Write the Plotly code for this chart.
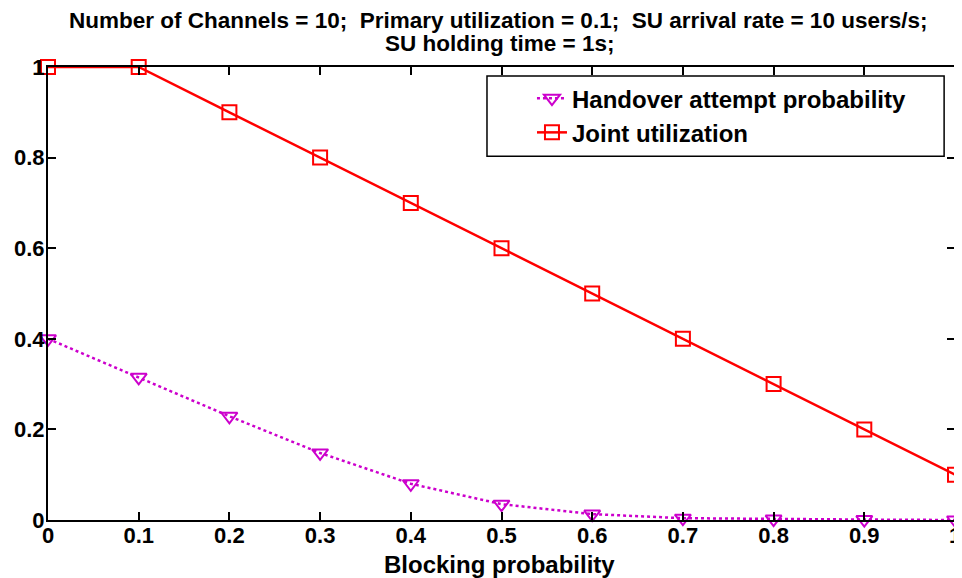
import plotly.graph_objects as go

blocking = [0, 0.1, 0.2, 0.3, 0.4, 0.5, 0.6, 0.7, 0.8, 0.9, 1.0]
handover = [0.40, 0.315, 0.229, 0.148, 0.080, 0.035, 0.013, 0.004, 0.002, 0.001, 0.0]
joint = [1.0, 1.0, 0.9, 0.8, 0.7, 0.6, 0.5, 0.4, 0.3, 0.2, 0.1]
xticks = [0, 0.1, 0.2, 0.3, 0.4, 0.5, 0.6, 0.7, 0.8, 0.9, 1]
xticklabels = ["0", "0.1", "0.2", "0.3", "0.4", "0.5", "0.6", "0.7", "0.8", "0.9", "1"]
yticks = [0, 0.2, 0.4, 0.6, 0.8, 1]
yticklabels = ["0", "0.2", "0.4", "0.6", "0.8", "1"]
title_lines = [
    "Number of Channels = 10;  Primary utilization = 0.1;  SU arrival rate = 10 users/s;",
    "SU holding time = 1s;",
]
x_title = "Blocking probability"

fig = go.Figure()
fig.add_trace(go.Scatter(
    x=blocking, y=handover, name="Handover attempt probability",
    mode="lines+markers",
    line=dict(color="#CC00CC", width=2.5, dash="dot"),
    marker=dict(symbol="triangle-down-open", size=14, color="#CC00CC", line=dict(width=2)),
    cliponaxis=False,
))
fig.add_trace(go.Scatter(
    x=blocking, y=joint, name="Joint utilization",
    mode="lines+markers",
    line=dict(color="#FF0000", width=2.5),
    marker=dict(symbol="square-open", size=14, color="#FF0000", line=dict(width=2)),
    cliponaxis=False,
))

font_main = "Arial, Liberation Sans, sans-serif"
title_font = dict(family=font_main, size=22.5, color="black")

fig.add_annotation(text="<b>" + title_lines[0] + "</b>", xref="paper", yref="paper",
                   x=0.496, y=1, yshift=47, xanchor="center", yanchor="middle",
                   showarrow=False, font=title_font)
fig.add_annotation(text="<b>" + title_lines[1] + "</b>", xref="paper", yref="paper",
                   x=0.498, y=1, yshift=24, xanchor="center", yanchor="middle",
                   showarrow=False, font=title_font)
fig.add_annotation(text="<b>" + x_title + "</b>", xref="paper", yref="paper",
                   x=0.498, y=0, yshift=-44, xanchor="center", yanchor="middle",
                   showarrow=False, font=dict(family=font_main, size=24, color="black"))

# legend frame
fig.add_shape(type="rect", xref="paper", yref="paper",
              x0=0.484, x1=0.988, y0=0.803, y1=0.980,
              line=dict(color="black", width=1.5), fillcolor="white", layer="below")

fig.update_layout(
    width=954, height=570,
    margin=dict(l=40, r=7, t=59, b=58, autoexpand=False),
    paper_bgcolor="white", plot_bgcolor="white",
    xaxis=dict(
        range=[0, 1], tickvals=xticks, ticktext=xticklabels,
        ticks="inside", ticklen=8, tickwidth=1.5, tickcolor="black",
        showline=True, linecolor="black", linewidth=2, mirror="ticks",
        showgrid=False, zeroline=False, ticklabeloverflow="allow",
        ticklabelstandoff=-5,
        tickfont=dict(family=font_main, size=22, color="black", weight="bold"),
    ),
    yaxis=dict(
        range=[0, 1], tickvals=yticks, ticktext=yticklabels,
        ticks="inside", ticklen=8, tickwidth=1.5, tickcolor="black",
        showline=True, linecolor="black", linewidth=2, mirror="ticks",
        showgrid=False, zeroline=False, ticklabeloverflow="allow",
        ticklabelstandoff=-3,
        tickfont=dict(family=font_main, size=22, color="black", weight="bold"),
    ),
    legend=dict(
        x=0.5336, y=0.98, xanchor="left", yanchor="top",
        borderwidth=0, bgcolor="rgba(0,0,0,0)",
        font=dict(family=font_main, size=24, color="black", weight="bold"),
    ),
    showlegend=True,
)
fig.write_html("out.html")
